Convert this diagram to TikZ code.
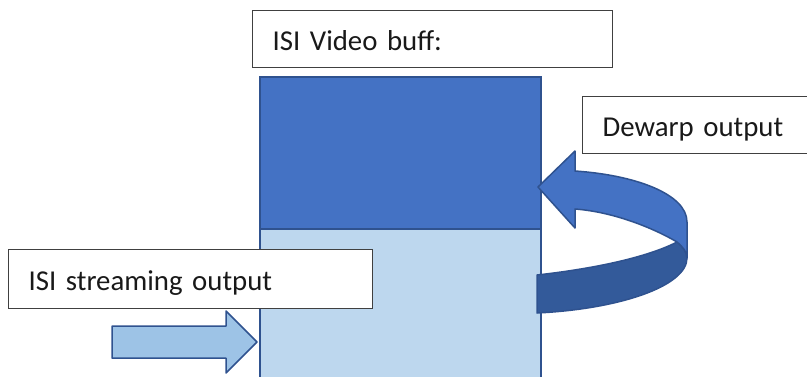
\documentclass[tikz,border=0pt]{standalone}
\usepackage{fontspec}
\setmainfont{Carlito}
\usetikzlibrary{positioning}

\definecolor{bufftop}{HTML}{4472C4}
\definecolor{buffbot}{HTML}{BDD7EE}
\definecolor{buffline}{HTML}{2F528F}
\definecolor{inblue}{HTML}{9DC3E6}
\definecolor{ringdark}{HTML}{335A9A}
\definecolor{boxline}{HTML}{404040}

\begin{document}
\begin{tikzpicture}[x=1pt,y=-1pt,
        tag/.style={draw=boxline,line width=1.2pt,fill=white,anchor=north west,
                    inner xsep=20pt,inner ysep=0pt,align=left,
                    text height=23pt,text depth=0pt,minimum height=57pt,
                    text=black!90,font=\fontsize{28.8}{34}\selectfont},
        buffpart/.style={draw=buffline,line width=1.8pt,anchor=north west,
                    inner sep=0pt,minimum width=281pt,minimum height=152pt},
        arrowbody/.style={draw=buffline,line width=1.5pt,line join=round}]
                \useasboundingbox (0,0) rectangle (807,376);
                % the buffer
                \node [buffpart, fill=buffbot] (lower) at (259,228) {};
                \node [buffpart, fill=bufftop] (upper) at (259,76) {};
                % labels
                \node [tag, text width=320pt] (vbuf) at (252,10) {ISI Video buff:};
                \node [tag, text width=210pt] (dewarp) at (582,96) {Dewarp output};
                \node [tag, text width=324pt, minimum height=59pt] (stream) at (8,249) {ISI streaming output};
                % streaming arrow
                \coordinate (intip) at (257,342);
                \draw [arrowbody, fill=inblue] (intip) -- ++(-31,-31) -- ++(0,15) -- ++(-114,0)
                      -- ++(0,32) -- ++(114,0) -- ++(0,15) -- cycle;
                % dewarp ring arrow
                \coordinate (ringtip) at (538,187);
                \coordinate (fold) at (677,242);
                \draw [arrowbody, fill=ringdark] (537,275) .. controls (600,268) and (650,256) .. (fold)
                      .. controls (683,247) and (687,252) .. (687,258)
                      .. controls (687,286) and (620,309) .. (537,313) -- cycle;
                \draw [arrowbody, fill=bufftop] (ringtip) -- (575,151) -- (575,171)
                      .. controls (635,175) and (687,194) .. (687,222) -- (687,258)
                      .. controls (687,252) and (683,247) .. (fold)
                      .. controls (655,229) and (615,212) .. (575,209) -- (575,228) -- cycle;
\end{tikzpicture}
\end{document}
